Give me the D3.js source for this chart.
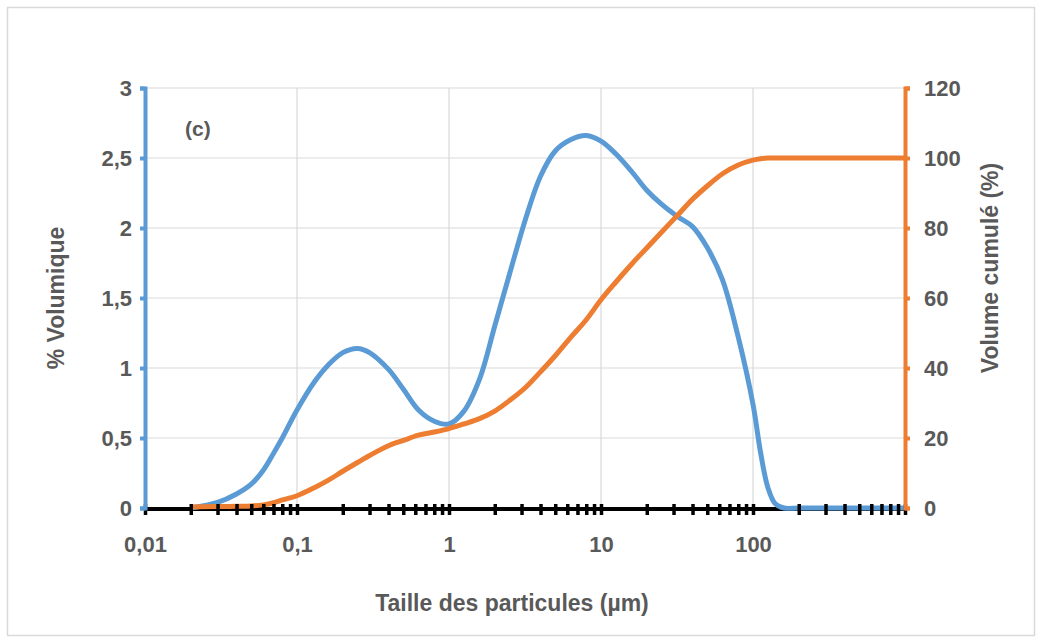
<!DOCTYPE html>
<html>
<head>
<meta charset="utf-8">
<script src="https://cdn.jsdelivr.net/npm/d3@7"></script>
<style>
  html, body { margin: 0; padding: 0; background: #fff; }
  text { font-family: "Liberation Sans", Arial, sans-serif; font-weight: bold; fill: #595959; }
</style>
</head>
<body>
<svg id="chart" width="1041" height="642"></svg>
<script>
// Particle size (µm)
const sizes = [0.02, 0.03, 0.04, 0.05, 0.06, 0.07, 0.08, 0.1, 0.13, 0.16, 0.2, 0.25, 0.3, 0.4, 0.5, 0.63, 0.8, 1.0,
  1.25, 1.6, 2.0, 2.5, 3.2, 4.0, 5.0, 6.3, 8.0, 10, 12.5, 16, 20, 25, 32, 40, 50, 63, 80, 100, 112, 125, 140, 160,
  200, 300, 500, 700, 1000];
// % Volumique (left axis)
const volume = [0, 0.04, 0.1, 0.17, 0.27, 0.39, 0.50, 0.70, 0.90, 1.02, 1.11, 1.14, 1.11, 0.99, 0.85, 0.70, 0.62, 0.60,
  0.69, 0.93, 1.30, 1.67, 2.07, 2.37, 2.55, 2.63, 2.66, 2.62, 2.53, 2.40, 2.27, 2.17, 2.08, 2.01, 1.86, 1.63, 1.22, 0.74, 0.40, 0.15, 0.03, 0,
  0, 0, 0, 0, 0];
// Volume cumulé (%) (right axis)
const cumul = [0.3, 0.4, 0.5, 0.6, 0.9, 1.5, 2.3, 3.5, 5.8, 7.9, 10.5, 13, 15, 17.8, 19.3, 20.8, 21.7, 22.7,
  24, 25.6, 27.7, 30.7, 34.5, 38.9, 43.5, 48.7, 53.8, 59.5, 64.5, 69.8, 74.3, 78.8, 83.7, 88.2, 92, 95.5, 98, 99.4, 99.8, 100, 100, 100,
  100, 100, 100, 100, 100];

const xTickLabels = [0.01, 0.1, 1, 10, 100];
const yLeftTicks = [0, 0.5, 1, 1.5, 2, 2.5, 3];
const yRightTicks = [0, 20, 40, 60, 80, 100, 120];

const svg = d3.select("#chart");
const BLUE = "#5B9BD5", ORANGE = "#ED7D31", GRID = "#d9d9d9";
const pL = 145, pR = 905, pT = 88, pB = 508;
const FS = 22;

const x = d3.scaleLog().domain([0.01, 1000]).range([pL, pR]);
const yL = d3.scaleLinear().domain([0, 3]).range([pB, pT]);
const yR = d3.scaleLinear().domain([0, 120]).range([pB, pT]);
const fmt = d => String(d).replace(".", ",");

// outer border
svg.append("rect").attr("x", 7.5).attr("y", 7.5).attr("width", 1027).attr("height", 628)
  .attr("fill", "#fff").attr("stroke", GRID).attr("stroke-width", 1.5);

// gridlines
const grid = svg.append("g");
grid.selectAll("line.h").data(yLeftTicks.slice(1)).join("line")
  .attr("x1", pL).attr("x2", pR).attr("y1", d => yL(d)).attr("y2", d => yL(d))
  .attr("stroke", GRID).attr("stroke-width", 1.2);
grid.selectAll("line.v").data(xTickLabels.slice(1).concat([1000])).join("line")
  .attr("x1", d => x(d)).attr("x2", d => x(d)).attr("y1", pT).attr("y2", pB)
  .attr("stroke", GRID).attr("stroke-width", 1.2);

// x axis baseline
svg.append("line").attr("x1", pL).attr("x2", pR).attr("y1", pB + 1).attr("y2", pB + 1)
  .attr("stroke", "#000").attr("stroke-width", 4);

// series
const curve = d3.curveCatmullRom.alpha(0.5);
const lineL = d3.line().x((d, i) => x(sizes[i])).y(d => Math.min(yL(0), yL(d))).curve(curve);
const lineR = d3.line().x((d, i) => x(sizes[i])).y(d => yR(d)).curve(d3.curveMonotoneX);
svg.append("path").datum(volume).attr("d", lineL).attr("fill", "none")
  .attr("stroke", BLUE).attr("stroke-width", 5).attr("stroke-linejoin", "round");
svg.append("path").datum(cumul).attr("d", lineR).attr("fill", "none")
  .attr("stroke", ORANGE).attr("stroke-width", 5).attr("stroke-linejoin", "round");

// x axis minor/major cross ticks
const minor = [];
for (let e = -2; e <= 2; e++) for (let m = 1; m <= 9; m++) minor.push(m * Math.pow(10, e));
minor.push(1000);
const xAxis = d3.axisBottom(x).tickValues(minor).tickSize(6).tickFormat("");
const gx = svg.append("g").attr("transform", `translate(0,${pB + 1})`).call(xAxis);
gx.select(".domain").remove();
gx.selectAll(".tick line").attr("y1", -5).attr("stroke", "#000").attr("stroke-width", 3.5);

// x labels
const gxl = d3.axisBottom(x).tickValues(xTickLabels).tickSize(0).tickPadding(0).tickFormat(fmt);
const gxlab = svg.append("g").attr("transform", `translate(0,${pB + 28})`).call(gxl);
gxlab.select(".domain").remove();
gxlab.selectAll("text").attr("font-size", FS).attr("fill", "#595959").attr("font-family", "Liberation Sans, Arial, sans-serif").attr("font-weight", "bold");

// left axis
const gyL = svg.append("g").attr("transform", `translate(${pL},0)`)
  .call(d3.axisLeft(yL).tickValues(yLeftTicks).tickSize(5).tickPadding(8).tickFormat(fmt));
gyL.select(".domain").attr("stroke", BLUE).attr("stroke-width", 4);
gyL.selectAll(".tick line").attr("stroke", BLUE).attr("stroke-width", 4);
gyL.selectAll("text").attr("font-size", FS).attr("fill", "#595959").attr("font-family", "Liberation Sans, Arial, sans-serif").attr("font-weight", "bold");

// right axis
const gyR = svg.append("g").attr("transform", `translate(${pR},0)`)
  .call(d3.axisRight(yR).tickValues(yRightTicks).tickSize(5).tickPadding(14).tickFormat(fmt));
gyR.select(".domain").attr("stroke", ORANGE).attr("stroke-width", 4);
gyR.selectAll(".tick line").attr("stroke", ORANGE).attr("stroke-width", 4);
gyR.selectAll("text").attr("font-size", FS).attr("fill", "#595959").attr("font-family", "Liberation Sans, Arial, sans-serif").attr("font-weight", "bold");

// titles
svg.append("text").attr("x", 512).attr("y", 611).attr("text-anchor", "middle")
  .attr("font-size", 23).text("Taille des particules (µm)");
svg.append("text").attr("transform", "translate(64,298) rotate(-90)").attr("text-anchor", "middle")
  .attr("font-size", 23).text("% Volumique");
svg.append("text").attr("transform", "translate(998,268) rotate(-90)").attr("text-anchor", "middle")
  .attr("font-size", 23).text("Volume cumulé (%)");
svg.append("text").attr("x", 185).attr("y", 136).attr("font-size", 21).text("(c)");
</script>
</body>
</html>
